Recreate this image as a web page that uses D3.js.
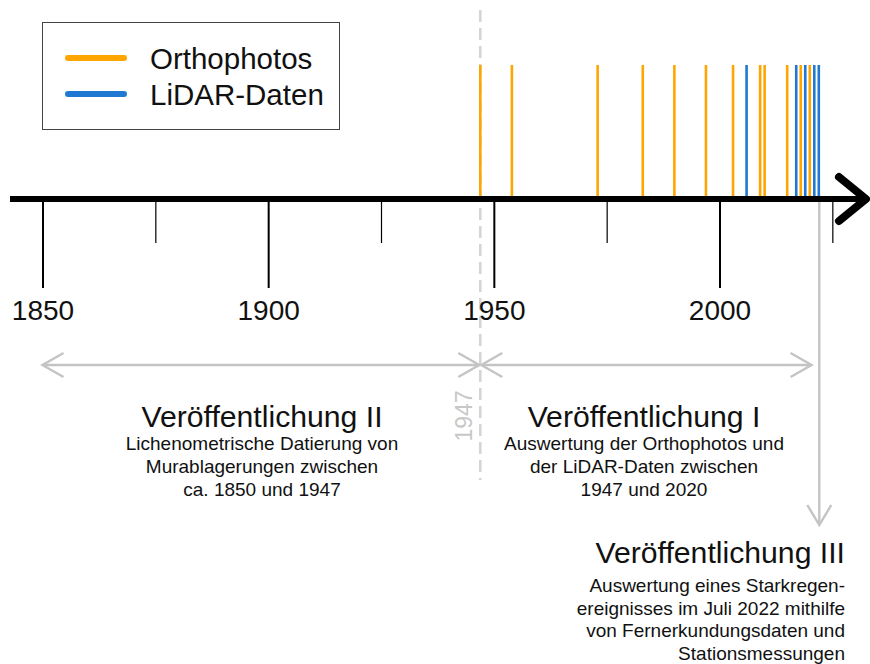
<!DOCTYPE html>
<html>
<head>
<meta charset="utf-8">
<script src="https://cdn.jsdelivr.net/npm/d3@7"></script>
<style>
  body { margin: 0; background: #fff; }
  text { font-family: "Liberation Sans", Arial, sans-serif; }
</style>
</head>
<body>
<svg id="vis" width="870" height="664"></svg>
<script>
const svg = d3.select("#vis");

// years
const orthoYears = [1947, 1954, 1973, 1983, 1990, 1997, 2003, 2009, 2010, 2015, 2018, 2020];
const lidarYears = [2006, 2017, 2019, 2021, 2022];
const majorTicks = [1850, 1900, 1950, 2000];
const minorTicks = [1875, 1925, 1975, 2025];
const splitYear = 1947;
const pubIIIYear = 2022;

const legendItems = [
  {label: "Orthophotos", color: "#ffa500"},
  {label: "LiDAR-Daten", color: "#1f78d1"}
];

const blocks = [
  {title: "Veröffentlichung II", x: 262, anchor: "middle", y: 427, gap: 23, lh: 23,
   lines: ["Lichenometrische Datierung von", "Murablagerungen zwischen", "ca. 1850 und 1947"]},
  {title: "Veröffentlichung I", x: 644, anchor: "middle", y: 427, gap: 23, lh: 23,
   lines: ["Auswertung der Orthophotos und", "der LiDAR-Daten zwischen", "1947 und 2020"]},
  {title: "Veröffentlichung III", x: 845, anchor: "end", y: 563, gap: 29, lh: 22.7,
   lines: ["Auswertung eines Starkregen-", "ereignisses im Juli 2022 mithilfe", "von Fernerkundungsdaten und", "Stationsmessungen"]}
];

const AXIS_Y = 199;
const GREY = "#c4c4c4";
const x = d3.scaleLinear().domain([1850, 2000]).range([42.5, 719.5]);

// dashed 1947 line (behind everything)
svg.append("line")
  .attr("x1", x(splitYear)).attr("x2", x(splitYear))
  .attr("y1", 10).attr("y2", 480)
  .attr("stroke", "#d4d4d4").attr("stroke-width", 2.5)
  .attr("stroke-dasharray", "12,6");

svg.append("text")
  .attr("transform", `translate(${x(splitYear) - 8},416) rotate(-90)`)
  .attr("text-anchor", "middle")
  .attr("font-size", 23)
  .attr("fill", "#c8c8c8")
  .text(splitYear);

// data lines
const events = orthoYears.map(y => ({year: y, color: legendItems[0].color}))
  .concat(lidarYears.map(y => ({year: y, color: legendItems[1].color})));

svg.selectAll(".event").data(events).join("line")
  .attr("class", "event")
  .attr("x1", d => x(d.year)).attr("x2", d => x(d.year))
  .attr("y1", 65).attr("y2", AXIS_Y - 2)
  .attr("stroke", d => d.color)
  .attr("stroke-width", 2.6);

// ticks
const major = svg.append("g")
  .attr("transform", `translate(0,${AXIS_Y})`)
  .call(d3.axisBottom(x).tickValues(majorTicks).tickSize(89).tickPadding(12).tickFormat(d3.format("d")));
major.select(".domain").remove();
major.selectAll("line").attr("stroke", "#000").attr("stroke-width", 2);
major.selectAll("text").attr("font-size", 28).attr("fill", "#111")
  .style("font-family", '"Liberation Sans", Arial, sans-serif');

const minor = svg.append("g")
  .attr("transform", `translate(0,${AXIS_Y})`)
  .call(d3.axisBottom(x).tickValues(minorTicks).tickSize(44).tickFormat(""));
minor.select(".domain").remove();
minor.selectAll("line").attr("stroke", "#000").attr("stroke-width", 1.2);

// main axis with arrow head
svg.append("line")
  .attr("x1", 10).attr("x2", 864)
  .attr("y1", AXIS_Y).attr("y2", AXIS_Y)
  .attr("stroke", "#000").attr("stroke-width", 6);
svg.append("path")
  .attr("d", `M839,177 L866,${AXIS_Y} L839,221`)
  .attr("fill", "none").attr("stroke", "#000")
  .attr("stroke-width", 8).attr("stroke-linecap", "round").attr("stroke-linejoin", "round");

// grey period arrows
function chevron(px, py, dir) {
  // dir: -1 left, 1 right
  return `M${px - dir * 21},${py - 12} L${px},${py} L${px - dir * 21},${py + 12}`;
}
const spans = [[1850, splitYear], [splitYear, 2020.4]];
spans.forEach(s => {
  const x0 = x(s[0]) + (s[0] === splitYear ? 1 : 0);
  const x1 = x(s[1]) - (s[1] === splitYear ? 1 : 0);
  svg.append("line").attr("x1", x0).attr("x2", x1).attr("y1", 365).attr("y2", 365)
    .attr("stroke", GREY).attr("stroke-width", 2.4);
  svg.append("path").attr("d", chevron(x0, 365, -1) + " " + chevron(x1, 365, 1))
    .attr("fill", "none").attr("stroke", GREY).attr("stroke-width", 2.4);
});

// arrow to Veröffentlichung III
const xa = x(pubIIIYear) + 0.5;
svg.append("line").attr("x1", xa).attr("x2", xa).attr("y1", AXIS_Y + 3).attr("y2", 525)
  .attr("stroke", GREY).attr("stroke-width", 2.4);
svg.append("path").attr("d", `M${xa - 12},505 L${xa},525 L${xa + 12},505`)
  .attr("fill", "none").attr("stroke", GREY).attr("stroke-width", 2.4);

// text blocks
blocks.forEach(b => {
  const t = svg.append("text").attr("text-anchor", b.anchor).attr("fill", "#111");
  t.append("tspan").attr("x", b.x).attr("y", b.y).attr("font-size", 30.2).text(b.title);
  b.lines.forEach((l, i) => {
    t.append("tspan").attr("x", b.x).attr("y", b.y + b.gap + i * b.lh).attr("font-size", 19).text(l);
  });
});

// legend
const legend = svg.append("g");
legend.append("rect")
  .attr("x", 42.5).attr("y", 22.5).attr("width", 297).attr("height", 107)
  .attr("fill", "#fff").attr("stroke", "#444").attr("stroke-width", 1);
const li = legend.selectAll(".item").data(legendItems).join("g").attr("class", "item");
li.append("line")
  .attr("x1", 68).attr("x2", 124)
  .attr("y1", (d, i) => 58 + i * 36).attr("y2", (d, i) => 58 + i * 36)
  .attr("stroke", d => d.color).attr("stroke-width", 6).attr("stroke-linecap", "round");
li.append("text")
  .attr("x", 150).attr("y", (d, i) => 69 + i * 36)
  .attr("font-size", 29.5).attr("fill", "#111")
  .text(d => d.label);
</script>
</body>
</html>
